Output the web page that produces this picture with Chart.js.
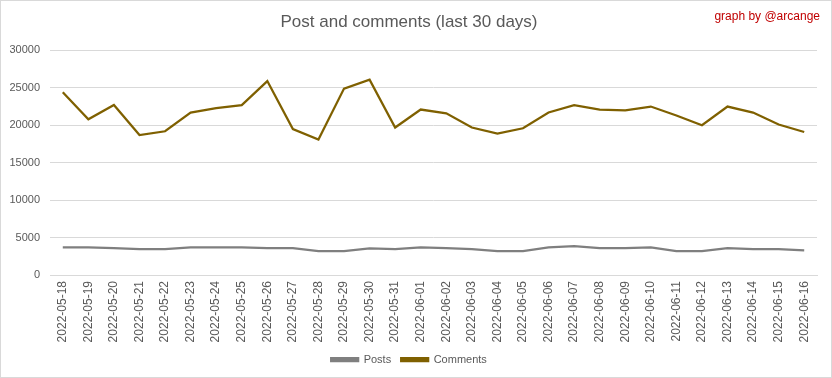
<!DOCTYPE html>
<html>
<head>
<meta charset="utf-8">
<script src="https://cdn.jsdelivr.net/npm/chart.js@4"></script>
<style>
  html, body { margin: 0; padding: 0; background: #fff; }
  #wrap { position: relative; width: 832px; height: 378px; box-sizing: border-box; border: 1px solid #d9d9d9; background: #fff; }
  #credit { position: absolute; right: 11px; top: 8px; font: 12px "Liberation Sans", sans-serif; color: #c00000; }
</style>
</head>
<body>
<div id="wrap">
  <canvas id="chart"></canvas>
  <div id="credit">graph by @arcange</div>
</div>
<script>
// Post and comments — last 30 days
const days = [
  '2022-05-18', '2022-05-19', '2022-05-20', '2022-05-21', '2022-05-22', '2022-05-23', '2022-05-24', '2022-05-25',
  '2022-05-26', '2022-05-27', '2022-05-28', '2022-05-29', '2022-05-30', '2022-05-31', '2022-06-01', '2022-06-02',
  '2022-06-03', '2022-06-04', '2022-06-05', '2022-06-06', '2022-06-07', '2022-06-08', '2022-06-09', '2022-06-10',
  '2022-06-11', '2022-06-12', '2022-06-13', '2022-06-14', '2022-06-15', '2022-06-16'
];
const posts = [
  3700, 3700, 3600, 3450, 3450, 3700, 3700, 3700, 3600, 3600, 3200, 3200, 3550, 3450, 3700,
  3600, 3450, 3200, 3200, 3700, 3850, 3600, 3600, 3700, 3200, 3200, 3600, 3450, 3450, 3300
];
const comments = [
  24400, 20800, 22700, 18700, 19200, 21700, 22300, 22700, 25900, 19500, 18100, 24900, 26100, 19700, 22100,
  21600, 19700, 18900, 19600, 21700, 22700, 22100, 22000, 22500, 21300, 20000, 22500, 21700, 20100, 19100
];
const yTicks = [0, 5000, 10000, 15000, 20000, 25000, 30000];

const grey = '#595959';
const font = 'Liberation Sans';

new Chart(document.getElementById('chart'), {
  type: 'line',
  data: {
    labels: days,
    datasets: [
      { label: 'Posts', data: posts, borderColor: '#7f7f7f', backgroundColor: '#7f7f7f', borderWidth: 2.25, pointRadius: 0, tension: 0 },
      { label: 'Comments', data: comments, borderColor: '#7f6000', backgroundColor: '#7f6000', borderWidth: 2.25, pointRadius: 0, tension: 0 },
    ],
  },
  options: {
    responsive: true, maintainAspectRatio: false, animation: false,
    layout: { padding: { top: 0, right: 14, bottom: 2, left: 0 } },
    plugins: {
      title: {
        display: true, text: 'Post and comments (last 30 days)', color: grey,
        font: { family: font, size: 17, weight: 'normal' }, padding: { top: 11, bottom: 18 },
      },
      legend: {
        position: 'bottom',
        labels: { color: grey, font: { family: font, size: 11 }, boxWidth: 27, boxHeight: 3, padding: 10 },
      },
      tooltip: { enabled: false },
    },
    scales: {
      x: {
        offset: true,
        grid: { display: false, drawTicks: false, tickLength: 0 },
        border: { color: '#d9d9d9' },
        ticks: { color: grey, font: { family: font, size: 12 }, maxRotation: 90, minRotation: 90, autoSkip: false, padding: 6 },
        afterFit: (s) => { s.height = 69; },
      },
      y: {
        min: 0, max: 30000,
        afterBuildTicks: (s) => { s.ticks = yTicks.map(v => ({ value: v })); },
        grid: { color: '#d9d9d9', drawTicks: false },
        border: { display: false },
        ticks: { color: grey, font: { family: font, size: 11 }, padding: 10, callback: (v) => String(v) },
        afterFit: (s) => { s.width = 49; },
      },
    },
  },
});
</script>
</body>
</html>
